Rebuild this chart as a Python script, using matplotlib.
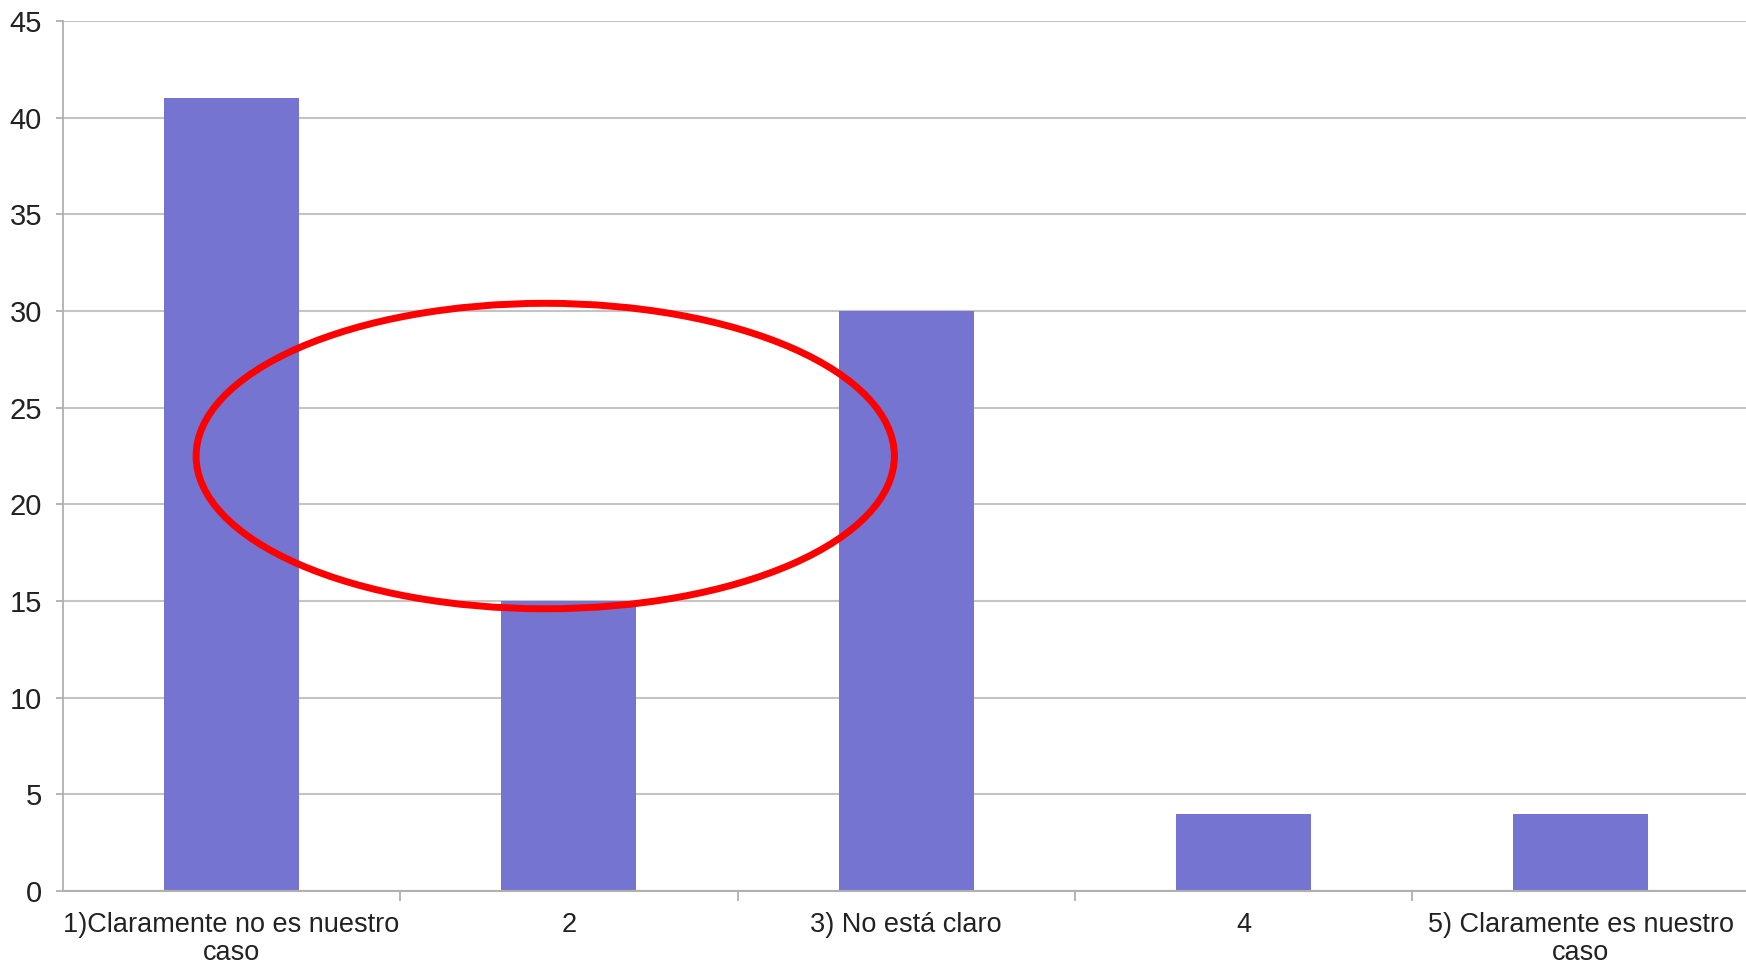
import matplotlib.pyplot as plt
from matplotlib.patches import Ellipse

categories = ['1)Claramente no es nuestro\ncaso', '2', '3) No está claro', '4',
              '5) Claramente es nuestro\ncaso']
counts = [41, 15, 30, 4, 4]
y_ticks = [0, 5, 10, 15, 20, 25, 30, 35, 40, 45]

# red ellipse drawn over the chart (center x, center y, width, height in data units)
circle_center = (0.93, 22.5)
circle_size = (2.07, 15.8)

plt.rcParams['font.family'] = ['Liberation Sans', 'DejaVu Sans']

fig = plt.figure(figsize=(17.46, 9.66), dpi=100)
ax = fig.add_axes([0.036, 0.0776, 0.966, 0.9006])

x = range(len(categories))
ax.bar(x, counts, width=0.4, color='#7575d1', zorder=2)

ax.set_xlim(-0.5, len(categories) - 0.5)
ax.set_ylim(0, 45)
ax.set_yticks(y_ticks)
ax.yaxis.grid(True, color='#c4c4c4', linewidth=1.5, zorder=0)

# category labels centered, ticks on category boundaries
ax.set_xticks(list(x))
ax.set_xticklabels(categories, fontsize=19.5, color='#222222', linespacing=1.12)
ax.tick_params(axis='x', length=0, pad=15)
ax.set_xticks([i + 0.5 for i in range(len(categories) - 1)], minor=True)
ax.tick_params(axis='x', which='minor', length=7, width=1.3, color='#b0b0b0')
ax.tick_params(axis='y', labelsize=21, labelcolor='#222222', length=5, width=1.3,
               color='#b0b0b0', pad=10)

for side in ['top', 'right']:
    ax.spines[side].set_visible(False)
ax.spines['left'].set_color('#b0b0b0')
ax.spines['left'].set_linewidth(1.3)
ax.spines['bottom'].set_color('#b0b0b0')
ax.spines['bottom'].set_linewidth(1.5)

ax.add_patch(Ellipse(circle_center, circle_size[0], circle_size[1], fill=False,
                     edgecolor='#ff0000', linewidth=5, zorder=3, clip_on=False))

fig.savefig('out.png', dpi=100)
